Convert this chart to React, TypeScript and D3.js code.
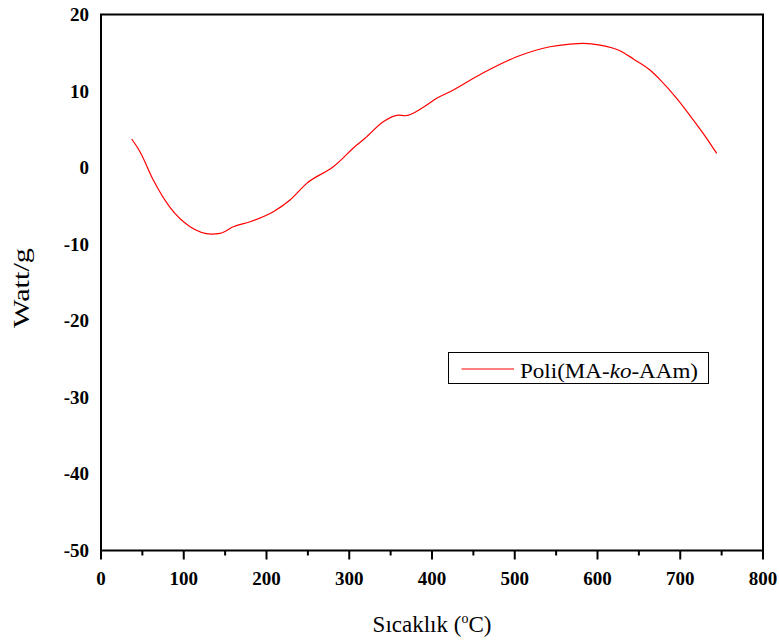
import React from "react";
import * as d3 from "d3";

const temps = [37.1, 47.1, 63.2, 83.4, 107.6, 133.8, 143.8, 159.9, 180.1, 208.2, 228.4, 248.6, 280.7, 309.0, 319.0, 341.1, 359.3, 367.4, 389.5, 405.7, 421.8, 462.0, 502.4, 542.6, 566.8, 582.8, 603.0, 627.2, 643.3, 663.4, 675.5, 695.7, 715.8, 731.9, 744.0];
const watts = [3.74, 2.08, -1.62, -5.2, -7.72, -8.67, -8.58, -7.72, -7.07, -5.76, -4.23, -2.05, 0.12, 2.95, 3.83, 5.99, 6.87, 6.78, 7.88, 9.05, 9.91, 12.39, 14.48, 15.79, 16.14, 16.23, 16.01, 15.27, 14.2, 12.75, 11.5, 9.05, 6.22, 3.83, 1.87];
const xTicks = [0, 100, 200, 300, 400, 500, 600, 700, 800];
const xMinor = [50, 150, 250, 350, 450, 550, 650, 750];
const yTicks = [20, 10, 0, -10, -20, -30, -40, -50];
const seriesName = ["Poli(MA-", "ko", "-AAm)"];

export default function App() {
  const W = 779, H = 643;
  const L = 101, R = 763, T = 14.5, B = 550.5;
  const x = d3.scaleLinear().domain([0, 800]).range([L, R]);
  const y = d3.scaleLinear().domain([-50, 20]).range([B, T]);
  const pts = temps.map((t, i) => [t, watts[i]] as [number, number]);
  const line = d3.line<[number, number]>().x(d => x(d[0])).y(d => y(d[1])).curve(d3.curveMonotoneX);
  const font = "Liberation Serif, Times New Roman, DejaVu Serif, serif";
  const st = { fontFamily: font };
  return (
    <svg width={W} height={H} style={{ position: "absolute", left: 0, top: 0 }}>
      <rect x={0} y={0} width={W} height={H} fill="#fff" />
      <rect x={L} y={T} width={R - L} height={B - T} fill="none" stroke="#000" strokeWidth={2} />
      {xTicks.map(t => (
        <g key={t}>
          <line x1={x(t)} x2={x(t)} y1={B} y2={B + 9} stroke="#000" strokeWidth={2} />
          <text x={x(t)} y={585} textAnchor="middle" fontSize={19} fontWeight="bold" style={st}>{t}</text>
        </g>
      ))}
      {xMinor.map(t => (
        <line key={t} x1={x(t)} x2={x(t)} y1={B} y2={B + 5} stroke="#000" strokeWidth={2} />
      ))}
      {yTicks.map(t => (
        <text key={t} x={89} y={y(t) + 6.5} textAnchor="end" fontSize={19} fontWeight="bold" style={st}>{t}</text>
      ))}
      <path d={line(pts) || ""} fill="none" stroke="#ff0000" strokeWidth={1.2} />
      <text x={29} y={288} transform="rotate(-90 29 288)" textAnchor="middle" fontSize={23}
        textLength={80} lengthAdjust="spacingAndGlyphs" style={st}>Watt/g</text>
      <text x={432} y={631.5} textAnchor="middle" fontSize={23} style={st}>
        Sıcaklık (<tspan dy={-9} fontSize={14}>o</tspan><tspan dy={9}>C)</tspan>
      </text>
      <rect x={448.5} y={352.5} width={260} height={31} fill="#fff" stroke="#000" strokeWidth={1} />
      <line x1={461.5} x2={514} y1={369} y2={369} stroke="#ff0000" strokeWidth={1.2} />
      <text x={520} y={378} fontSize={21} textLength={178} lengthAdjust="spacingAndGlyphs" style={st}>
        {seriesName[0]}<tspan fontStyle="italic">{seriesName[1]}</tspan>{seriesName[2]}
      </text>
    </svg>
  );
}
